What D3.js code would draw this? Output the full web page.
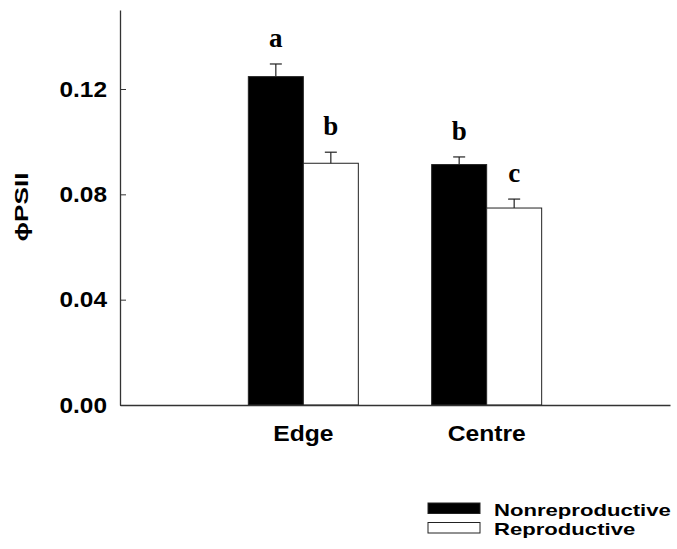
<!DOCTYPE html>
<html>
<head>
<meta charset="utf-8">
<script src="https://cdn.jsdelivr.net/npm/d3@7"></script>
<style>
  body { margin: 0; background: #fff; }
  text { font-family: Arial, "Liberation Sans", sans-serif; font-weight: bold; fill: #000; }
  .sig { font-family: "Times New Roman", "Liberation Serif", serif; }
</style>
</head>
<body>
<svg id="chart" width="677" height="549"></svg>
<script>
const sites = ['Edge', 'Centre'];
const groups = ['Nonreproductive', 'Reproductive'];
const nonreproductive = [0.1247, 0.0913];
const reproductive = [0.0918, 0.0748];
const seNonrep = [0.0048, 0.0029];
const seRep = [0.0042, 0.0034];
const letters = [['a', 'b'], ['b', 'c']]; // per site: [nonrep, rep]
const yTicks = [0, 0.04, 0.08, 0.12];

const fills = { Nonreproductive: '#000', Reproductive: '#fff' };

const svg = d3.select('#chart');
const margin = { left: 120, right: 7, top: 10, bottom: 144 };
const W = 677, H = 549;
const x0 = margin.left, x1 = W - margin.right;
const yBase = H - margin.bottom;

// the original text is a bit wider than Arial, stretch it
function stretch(sel, k) {
  sel.each(function() {
    const w = this.getComputedTextLength();
    d3.select(this).attr('textLength', w * k).attr('lengthAdjust', 'spacingAndGlyphs');
  });
}

const y = d3.scaleLinear().domain([0, 0.15]).range([yBase, margin.top]);

const x = d3.scaleBand()
  .domain(sites)
  .range([x0, x1])
  .paddingInner(0.4)
  .paddingOuter(0.7);

const xs = d3.scaleBand().domain(groups).range([0, x.bandwidth()]).padding(0);

// build rows
const rows = [];
sites.forEach((s, i) => {
  rows.push({ site: s, group: 'Nonreproductive', v: nonreproductive[i], se: seNonrep[i], lab: letters[i][0] });
  rows.push({ site: s, group: 'Reproductive', v: reproductive[i], se: seRep[i], lab: letters[i][1] });
});

// bars
svg.append('g').selectAll('rect')
  .data(rows)
  .enter()
  .append('rect')
  .attr('x', d => x(d.site) + xs(d.group))
  .attr('y', d => y(d.v))
  .attr('width', xs.bandwidth())
  .attr('height', d => yBase - y(d.v))
  .attr('fill', d => fills[d.group])
  .attr('stroke', '#222')
  .attr('stroke-width', 1);

// error bars (upper only)
const eb = svg.append('g').attr('stroke', '#222').attr('stroke-width', 1.2);
rows.forEach(d => {
  const cx = x(d.site) + xs(d.group) + xs.bandwidth() / 2;
  eb.append('line').attr('x1', cx).attr('x2', cx).attr('y1', y(d.v)).attr('y2', y(d.v + d.se));
  eb.append('line').attr('x1', cx - 6).attr('x2', cx + 6).attr('y1', y(d.v + d.se)).attr('y2', y(d.v + d.se));
});

// significance letters
svg.append('g').selectAll('text')
  .data(rows)
  .enter()
  .append('text')
  .attr('class', 'sig')
  .attr('x', d => x(d.site) + xs(d.group) + xs.bandwidth() / 2)
  .attr('y', d => y(d.v + d.se) - 17)
  .attr('text-anchor', 'middle')
  .style('font-size', '27px')
  .text(d => d.lab);

// Y axis
const yAxis = svg.append('g')
  .attr('transform', `translate(${x0},0)`)
  .call(d3.axisLeft(y)
    .tickValues(yTicks)
    .tickFormat(d3.format('.2f'))
    .tickSizeInner(-6)
    .tickSizeOuter(0)
    .tickPadding(13));
yAxis.select('.domain').attr('stroke', '#333').attr('stroke-width', 1.3);
yAxis.selectAll('.tick line').attr('stroke', '#333');
yAxis.selectAll('text').style('font-size', '22px').style('font-family', 'Arial, "Liberation Sans", sans-serif').style('font-weight', 'bold');
stretch(yAxis.selectAll('text'), 1.11);

// X axis
const xAxis = svg.append('g')
  .attr('transform', `translate(0,${yBase})`)
  .call(d3.axisBottom(x).tickSize(0).tickPadding(20));
xAxis.select('.domain').attr('stroke', '#333').attr('stroke-width', 1.3);
xAxis.selectAll('text').style('font-size', '22px').style('font-family', 'Arial, "Liberation Sans", sans-serif').style('font-weight', 'bold');
stretch(xAxis.selectAll('text'), 1.12);

// Y label
svg.append('text')
  .attr('transform', `translate(28,207) rotate(-90)`)
  .attr('text-anchor', 'middle')
  .style('font-size', '19px')
  .attr('textLength', 69)
  .attr('lengthAdjust', 'spacingAndGlyphs')
  .text('\u03D5PSII');

// legend
const leg = svg.append('g').attr('transform', 'translate(428,503)');
groups.forEach((g, i) => {
  const row = leg.append('g').attr('transform', `translate(0,${i * 19.5})`);
  row.append('rect').attr('width', 52).attr('height', 10.5)
    .attr('fill', fills[g]).attr('stroke', '#222').attr('stroke-width', 1);
  const t = row.append('text').attr('x', 66).attr('y', 12.5).style('font-size', '17px').text(g);
  stretch(t, 1.3);
});
</script>
</body>
</html>
